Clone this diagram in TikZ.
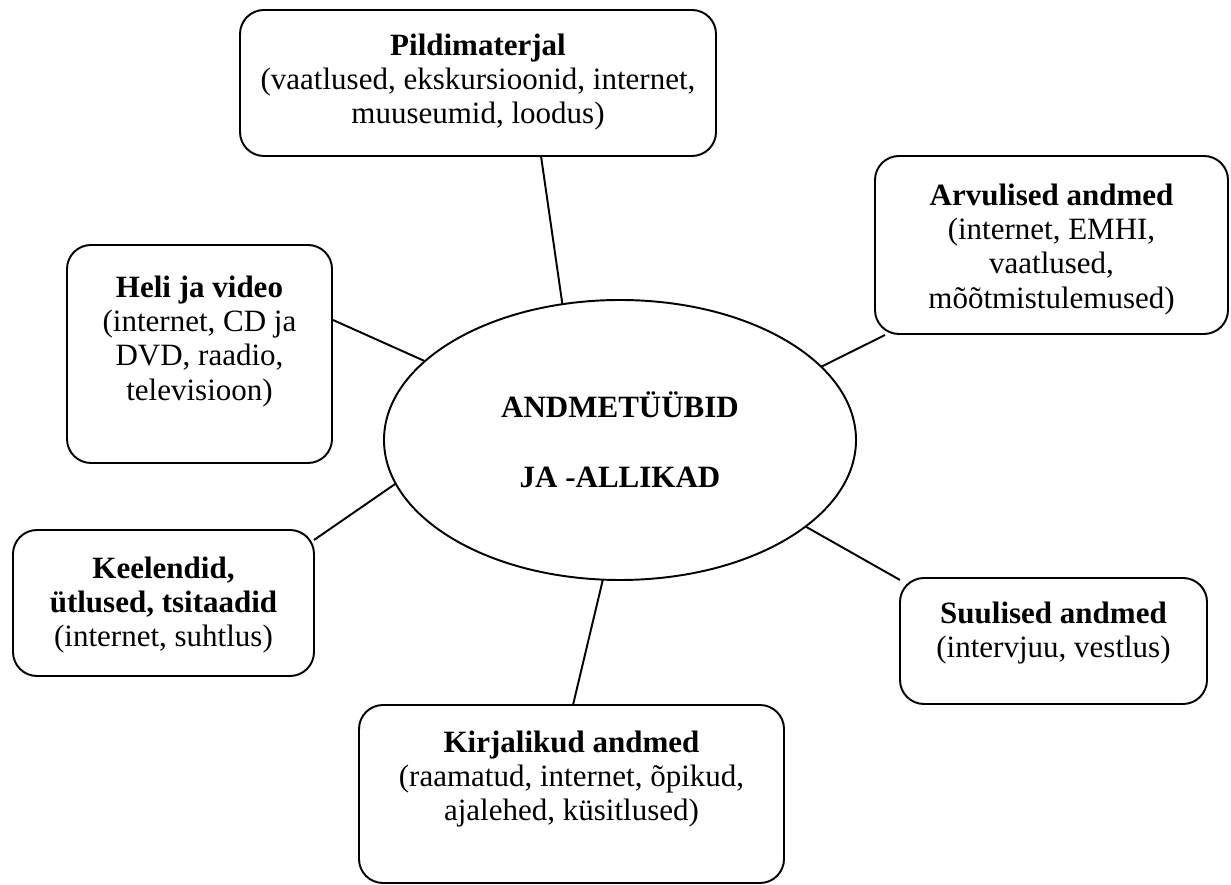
\documentclass[tikz,border=0pt]{standalone}
\usepackage{fontspec}
\setmainfont{Liberation Serif}
\usetikzlibrary{shapes.geometric}
\newdimen\pxu
\pxu=0.3871pt
\begin{document}
\begin{tikzpicture}[x=0.3871pt, y=-0.3871pt,
  every node/.style={inner sep=0pt, outer sep=0pt},
  card/.style={draw, line width=0.75pt, rectangle, rounded corners=24\pxu, anchor=north west},
  cardtext/.style={anchor=north, align=center, font=\fontsize{12pt}{13.3pt}\selectfont},
  hub/.style={draw, line width=0.75pt, ellipse, minimum width=472\pxu, minimum height=280\pxu,
    align=center, font=\fontsize{12pt}{13.3pt}\selectfont\bfseries},
  link/.style={line width=0.75pt}]
\useasboundingbox (0,0) rectangle (1231,885);

% central ellipse
\node[hub] (hub) at (620,440) {ANDMETÜÜBID\\[13.8pt]JA -ALLIKAD};

% surrounding cards
\node[card, minimum width=476\pxu, minimum height=146\pxu] (pil) at (240,10) {};
\node[cardtext] (pilT) at ([yshift=-21\pxu]pil.north)
  {\textbf{Pildimaterjal}\strut\\(vaatlused, ekskursioonid, internet,\\muuseumid, loodus)};

\node[card, minimum width=353\pxu, minimum height=178\pxu] (arv) at (875,156) {};
\node[cardtext] (arvT) at ([yshift=-25\pxu]arv.north)
  {\textbf{Arvulised andmed}\strut\\(internet, EMHI,\\vaatlused,\\mõõtmistulemused)};

\node[card, minimum width=265\pxu, minimum height=218\pxu] (heli) at (67,245) {};
\node[cardtext] (heliT) at ([yshift=-28\pxu]heli.north)
  {\textbf{Heli ja video}\strut\\(internet, CD ja\\DVD, raadio,\\televisioon)};

\node[card, minimum width=301\pxu, minimum height=146\pxu] (kee) at (13,530) {};
\node[cardtext] (keeT) at ([yshift=-24\pxu]kee.north)
  {\textbf{Keelendid,}\strut\\\textbf{ütlused, tsitaadid}\\(internet, suhtlus)};

\node[card, minimum width=307\pxu, minimum height=126\pxu] (suu) at (900,578) {};
\node[cardtext] (suuT) at ([yshift=-21\pxu]suu.north)
  {\textbf{Suulised andmed}\strut\\(intervjuu, vestlus)};

\node[card, minimum width=425\pxu, minimum height=178\pxu] (kir) at (359,705) {};
\node[cardtext] (kirT) at ([yshift=-23\pxu]kir.north)
  {\textbf{Kirjalikud andmed}\strut\\(raamatud, internet, õpikud,\\ajalehed, küsitlused)};

% connector ends on the cards
\coordinate (pilE) at (541,156);
\coordinate (arvE) at (885,335);
\coordinate (heliE) at (333,320);
\coordinate (keeE) at (314,540);
\coordinate (suuE) at (900,580);
\coordinate (kirE) at (573,705);

\draw[link] (pilE) -- (hub.113.7);
\draw[link] (arvE) -- (hub.20.2);
\draw[link] (heliE) -- (hub.158.9);
\draw[link] (keeE) -- (hub.191.8);
\draw[link] (suuE) -- (hub.-25.2);
\draw[link] (kirE) -- (hub.263.9);
\end{tikzpicture}
\end{document}
